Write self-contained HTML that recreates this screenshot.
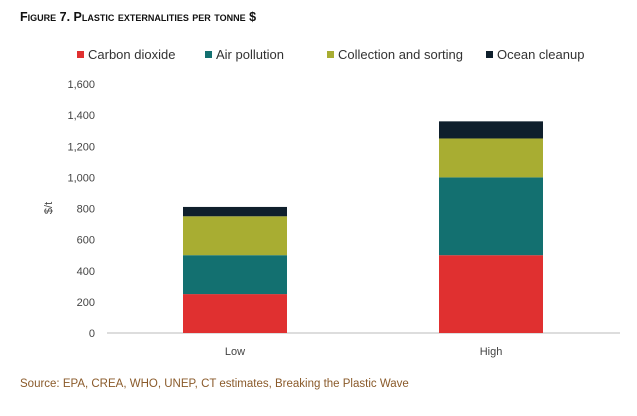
<!DOCTYPE html>
<html><head><meta charset="utf-8"><style>
body{margin:0;background:#fff;width:637px;height:411px;overflow:hidden;font-family:"Liberation Sans",sans-serif}
</style></head><body>
<svg id="c" width="637" height="411" xmlns="http://www.w3.org/2000/svg">
<text x="20" y="21" font-size="12.5" font-weight="bold" fill="#111" style="font-variant:small-caps">Figure 7. Plastic externalities per tonne $</text>
<text x="20" y="387" font-size="11.5" fill="#8a5a2a">Source: EPA, CREA, WHO, UNEP, CT estimates, Breaking the Plastic Wave</text>
<text transform="translate(52,208) rotate(-90)" text-anchor="middle" font-size="11" fill="#444">$/t</text>
</svg>
<script>
const categories=["Low","High"];
const seriesNames=["Carbon dioxide","Air pollution","Collection and sorting","Ocean cleanup"];
const carbon=[250,500];
const air=[250,500];
const collection=[250,250];
const ocean=[60,110];
const yTicks=[0,200,400,600,800,1000,1200,1400,1600];
const colors=["#e03030","#137070","#a8ad32","#0f1f2c"];
const svg=document.getElementById('c');const NS="http://www.w3.org/2000/svg";
const y0=333,y1=84,yMax=1600;
const yS=v=>y0-(v/yMax)*(y0-y1);
const xC=i=>235+i*256;const bw=104;
function mk(t,a){const e=document.createElementNS(NS,t);for(const k in a)e.setAttribute(k,a[k]);svg.appendChild(e);return e;}
yTicks.forEach(v=>{
 const t=mk('text',{x:95,y:yS(v)+4,'text-anchor':'end','font-size':11,fill:'#444'});
 t.textContent=v.toLocaleString('en-US');
 
 
});
const ax=mk('line',{x1:107,x2:620,y1:y0,y2:y0,stroke:'#bbb'});


const series=[carbon,air,collection,ocean];
categories.forEach((c,i)=>{
 let base=0;
 series.forEach((s,j)=>{
  const r=mk('rect',{x:xC(i)-bw/2,y:yS(base+s[i]),width:bw,height:yS(base)-yS(base+s[i]),fill:colors[j]});
  
  
  base+=s[i];
 });
 const t=mk('text',{x:xC(i),y:355,'text-anchor':'middle','font-size':11,fill:'#444'});
 t.textContent=c;
 
 
});
const lx=[77,205,327,486];
seriesNames.forEach((n,j)=>{
 const r=mk('rect',{x:lx[j],y:51,width:7,height:7,fill:colors[j]});
 
 
 const t=mk('text',{x:lx[j]+11,y:59,'font-size':13,fill:'#333'});
 t.textContent=n;
 
 
});
</script>
</body></html>
